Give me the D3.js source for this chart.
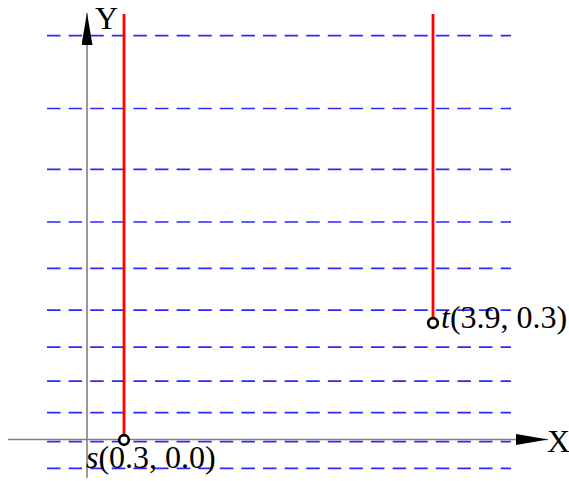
<!DOCTYPE html>
<html>
<head>
<meta charset="utf-8">
<script src="https://cdn.jsdelivr.net/npm/d3@7"></script>
<style>
  html, body { margin: 0; padding: 0; background: #fff; }
  svg { display: block; }
  text { font-family: "Liberation Serif", "DejaVu Serif", serif; }
</style>
</head>
<body>
<script>
// ---- data ----
const points = [
  { name: "s", x: 0.3, y: 0.0 },
  { name: "t", x: 3.9, y: 0.3 }
];
const levels = [-0.073, -0.004, 0.070, 0.151, 0.238, 0.333, 0.440, 0.559, 0.694, 0.850, 1.037];
const rayTop = 1.092;
const levelXRange = [-0.597, 4.809];
const xAxisRange = [-1.052, 5.24];
const yAxisX = -0.131;
const yAxisRange = [-0.097, 1.095];
const axisLabels = ["X", "Y"];

// ---- layout ----
const W = 569, H = 481;
const x = d3.scaleLinear().domain([0.3, 3.9]).range([124, 433]);
const y = d3.scaleLinear().domain([0, 0.3]).range([440, 323]);

const svg = d3.select("body").append("svg").attr("width", W).attr("height", H);

svg.append("defs").append("marker")
  .attr("id", "arrow").attr("viewBox", "0 0 32 11")
  .attr("refX", 32).attr("refY", 5.5)
  .attr("markerUnits", "userSpaceOnUse")
  .attr("markerWidth", 32).attr("markerHeight", 11)
  .attr("orient", "auto")
  .append("path").attr("d", "M0,0 L32,5.5 L0,11 Z").attr("fill", "#000");

// dashed level lines
svg.append("g").selectAll("line").data(levels).join("line")
  .attr("x1", x(levelXRange[0])).attr("x2", x(levelXRange[1]))
  .attr("y1", d => y(d)).attr("y2", d => y(d))
  .attr("stroke", "#2a2aff").attr("stroke-width", 1.7)
  .attr("stroke-dasharray", "13.5 8.1");

// axes
svg.append("line")
  .attr("x1", x(xAxisRange[0])).attr("x2", x(xAxisRange[1]))
  .attr("y1", y(0) - 0.5).attr("y2", y(0) - 0.5)
  .attr("stroke", "#808080").attr("stroke-width", 1.6)
  .attr("marker-end", "url(#arrow)");
svg.append("line")
  .attr("x1", x(yAxisX)).attr("x2", x(yAxisX))
  .attr("y1", y(yAxisRange[0])).attr("y2", y(yAxisRange[1]))
  .attr("stroke", "#808080").attr("stroke-width", 1.6)
  .attr("marker-end", "url(#arrow)");

svg.append("text").attr("x", x(xAxisRange[1]) - 1).attr("y", y(0) + 12)
  .attr("font-size", 32).text(axisLabels[0]);
svg.append("text").attr("x", x(yAxisX) + 8).attr("y", 29)
  .attr("font-size", 32).text(axisLabels[1]);

// red vertical rays
svg.append("g").selectAll("line").data(points).join("line")
  .attr("x1", d => x(d.x)).attr("x2", d => x(d.x))
  .attr("y1", d => y(d.y)).attr("y2", y(rayTop))
  .attr("stroke", "#ff0000").attr("stroke-width", 2.8);

// points
svg.append("g").selectAll("circle").data(points).join("circle")
  .attr("cx", d => x(d.x)).attr("cy", d => y(d.y)).attr("r", 4.8)
  .attr("fill", "#fff").attr("stroke", "#000").attr("stroke-width", 2.7);

// labels
const lab = svg.append("g").selectAll("text").data(points).join("text")
  .attr("font-size", 32)
  .attr("x", d => d.name === "s" ? x(d.x) - 38 : x(d.x) + 8)
  .attr("y", d => d.name === "s" ? y(d.y) + 28 : y(d.y) + 5);
lab.append("tspan").attr("font-style", "italic").text(d => d.name);
lab.append("tspan").text(d => `(${d.x.toFixed(1)}, ${d.y.toFixed(1)})`);
</script>
</body>
</html>
